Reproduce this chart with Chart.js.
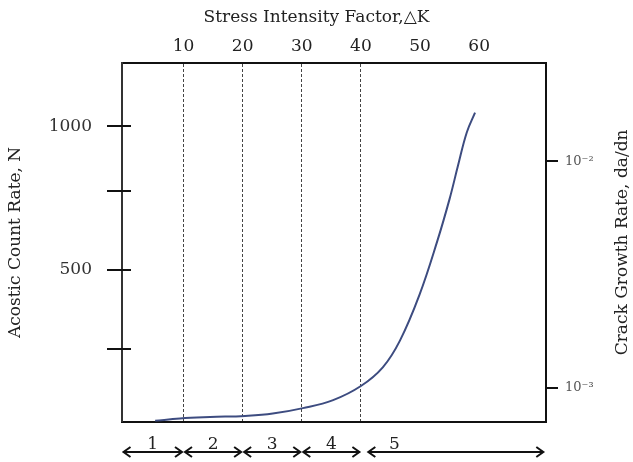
<!DOCTYPE html>
<html>
<head>
<meta charset="utf-8">
<script src="https://cdn.jsdelivr.net/npm/chart.js@4.4.0/dist/chart.umd.min.js"></script>
<style>
  html, body { margin: 0; padding: 0; background: #fff; }
  #wrap { width: 633px; height: 462px; }
</style>
</head>
<body>
<div id="wrap"><canvas id="c"></canvas></div>
<script>
// ─── data ────────────────────────────────────────────────
const deltaK    = [5.2, 9.4, 14.5, 20.4, 25.1, 30.2, 35.3, 40.0, 43.7, 46.6, 49.9, 52.9, 55.0, 56.4, 57.9, 59.3];
const countRate = [-25, -17, -12, -8, 0, 19, 47, 96, 161, 254, 413, 599, 747, 861, 978, 1047];

const kTicks       = [10, 20, 30, 40, 50, 60];
const kDashed      = [10, 20, 30, 40];
const countTicks   = [224, 500, 776, 1000];
const countLabels  = ['', '500', '', '1000'];
const rateTicks    = [1e-3, 1e-2];
const rateLabels   = ['10⁻³', '10⁻²'];

const regionNames = ['1', '2', '3', '4', '5'];
const regionFrom  = [-0.4, 10, 20, 30, 41];
const regionTo    = [10, 20, 30, 40, 71.1];

const SERIF = '"DejaVu Serif", "Liberation Serif", serif';
const INK = '#222';
const CURVE = '#3d4c80';

// ─── 그림 보조: 교차 눈금, 구간 화살표, 오른쪽 축 제목 ────
const extras = {
  id: 'extras',
  afterDraw(chart) {
    const { ctx, chartArea: a, scales } = chart;
    ctx.save();

    // left axis tick marks crossing the frame
    ctx.strokeStyle = '#111';
    ctx.lineWidth = 2;
    countTicks.forEach(v => {
      const y = Math.round(scales.y.getPixelForValue(v));
      ctx.beginPath();
      ctx.moveTo(a.left - 15, y);
      ctx.lineTo(a.left + 9, y);
      ctx.stroke();
    });

    // region arrows under the plot
    const ay = 452;
    ctx.font = '17px ' + SERIF;
    ctx.fillStyle = INK;
    ctx.textAlign = 'center';
    ctx.textBaseline = 'alphabetic';
    regionNames.forEach((name, i) => {
      const x0 = Math.max(scales.x.getPixelForValue(regionFrom[i]), a.left) + 1.5;
      const x1 = Math.min(scales.x.getPixelForValue(regionTo[i]), a.right) - 1.5;
      ctx.beginPath();
      ctx.moveTo(x0, ay); ctx.lineTo(x1, ay);
      ctx.moveTo(x0 + 7, ay - 5); ctx.lineTo(x0, ay); ctx.lineTo(x0 + 7, ay + 5);
      ctx.moveTo(x1 - 7, ay - 5); ctx.lineTo(x1, ay); ctx.lineTo(x1 - 7, ay + 5);
      ctx.stroke();
      const lx = i === regionNames.length - 1 ? x0 + 26 : (x0 + x1) / 2;
      ctx.fillText(name, lx, ay - 3);
    });

    // right axis title, reading bottom to top
    ctx.translate(623, (a.top + a.bottom) / 2);
    ctx.rotate(-Math.PI / 2);
    ctx.textBaseline = 'middle';
    ctx.font = '17px ' + SERIF;
    ctx.fillText('Crack Growth Rate, da/dn', 0, 0);
    ctx.restore();
  }
};

new Chart(document.getElementById('c'), {
  type: 'line',
  data: {
    datasets: [{
      data: deltaK.map((k, i) => ({ x: k, y: countRate[i] })),
      borderColor: CURVE,
      borderWidth: 2,
      pointRadius: 0,
      tension: 0.4,
      xAxisID: 'x',
      yAxisID: 'y'
    }]
  },
  options: {
    responsive: true,
    maintainAspectRatio: false,
    animation: false,
    layout: { padding: 0 },
    plugins: {
      legend: { display: false },
      tooltip: { enabled: false },
      title: {
        display: true,
        text: 'Stress Intensity Factor,△K',
        color: INK,
        font: { family: SERIF, size: 17, weight: 'normal' },
        padding: { top: 7, bottom: 0 }
      }
    },
    scales: {
      x: {
        type: 'linear',
        position: 'top',
        min: -0.4,
        max: 71.3,
        afterBuildTicks: s => { s.ticks = kTicks.map(v => ({ value: v })); },
        afterFit: s => { s.height = 35.6; },
        ticks: {
          color: INK,
          font: { family: SERIF, size: 17 },
          padding: 6,
          maxRotation: 0,
          autoSkip: false
        },
        grid: {
          drawTicks: false,
          lineWidth: 1,
          color: c => kDashed.includes(c.tick && c.tick.value) ? '#444' : 'transparent'
        },
        border: { display: true, color: '#111', width: 2, dash: [3, 2] }
      },
      x2: {
        type: 'linear',
        position: 'bottom',
        min: -0.4,
        max: 71.3,
        afterFit: s => { s.height = 37; },
        ticks: { display: false },
        grid: { display: false, drawTicks: false },
        border: { display: true, color: '#111', width: 2 }
      },
      y: {
        type: 'linear',
        position: 'left',
        min: -28.5,
        max: 1219.6,
        afterBuildTicks: s => { s.ticks = countTicks.map(v => ({ value: v })); },
        afterFit: s => { s.width = 122; },
        ticks: {
          color: '#333',
          font: { family: SERIF, size: 17 },
          padding: 30,
          autoSkip: false,
          callback: (v) => countLabels[countTicks.indexOf(v)] || ''
        },
        grid: { display: false, drawTicks: false },
        border: { display: true, color: '#333', width: 2 },
        title: {
          display: true,
          text: 'Acostic Count Rate, N',
          color: INK,
          font: { family: SERIF, size: 17 },
          padding: { top: 5, bottom: 0 }
        }
      },
      y2: {
        type: 'logarithmic',
        position: 'right',
        min: Math.pow(10, -3.15),
        max: Math.pow(10, -1.567),
        afterBuildTicks: s => { s.ticks = rateTicks.map(v => ({ value: v })); },
        afterFit: s => { s.width = 87; },
        ticks: {
          color: '#555',
          font: { family: SERIF, size: 13 },
          padding: 7,
          autoSkip: false,
          callback: (v) => rateLabels[rateTicks.indexOf(v)] || ''
        },
        grid: {
          drawOnChartArea: false,
          drawTicks: true,
          tickLength: 12,
          color: '#111',
          lineWidth: 2
        },
        border: { display: true, color: '#111', width: 2 }
      }
    }
  },
  plugins: [extras]
});
</script>
</body>
</html>
